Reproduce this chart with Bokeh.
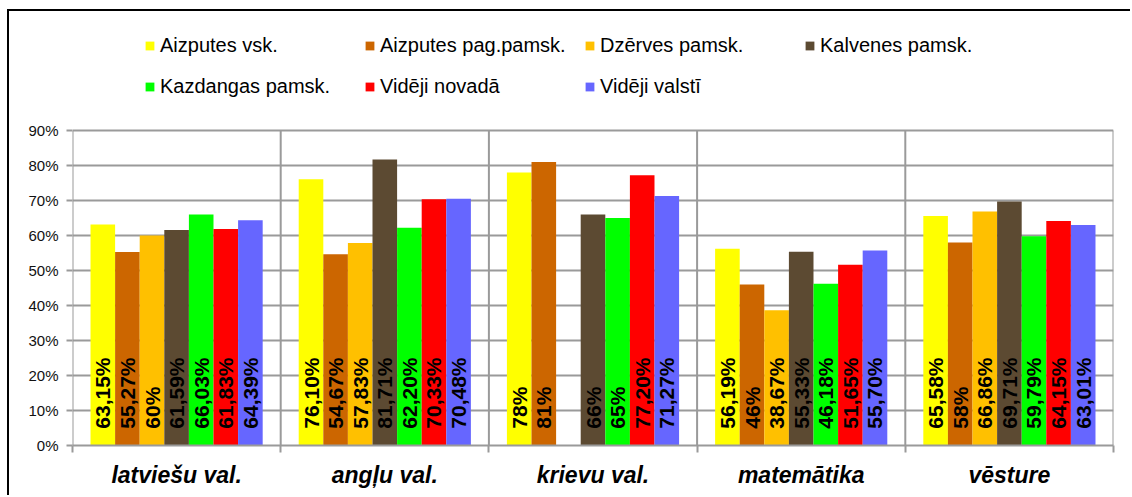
import math
from bokeh.plotting import figure
from bokeh.models import (ColumnDataSource, FixedTicker, Legend, LegendItem,
                          NumeralTickFormatter, Range1d)
from bokeh.transform import dodge
from bokeh.core.properties import value
from bokeh.embed import file_html
from bokeh.resources import INLINE

categories = ["latviešu val.", "angļu val.", "krievu val.", "matemātika", "vēsture"]
series = ["Aizputes vsk.", "Aizputes pag.pamsk.", "Dzērves pamsk.", "Kalvenes pamsk.",
          "Kazdangas pamsk.", "Vidēji novadā", "Vidēji valstī"]
colors = ["#FFFF00", "#CC6600", "#FFC000", "#5C4A32", "#00FF00", "#FF0000", "#6666FF"]

aizputes_vsk = [0.6315, 0.7610, 0.78, 0.5619, 0.6558]
aizputes_pag = [0.5527, 0.5467, 0.81, 0.46, 0.58]
dzerves = [0.60, 0.5783, float("nan"), 0.3867, 0.6686]
kalvenes = [0.6159, 0.8171, 0.66, 0.5533, 0.6971]
kazdangas = [0.6603, 0.6220, 0.65, 0.4618, 0.5979]
videji_novada = [0.6183, 0.7033, 0.7720, 0.5165, 0.6415]
videji_valsti = [0.6439, 0.7048, 0.7127, 0.5570, 0.6301]
all_values = [aizputes_vsk, aizputes_pag, dzerves, kalvenes, kazdangas, videji_novada, videji_valsti]

y_ticks = [0.0, 0.1, 0.2, 0.3, 0.4, 0.5, 0.6, 0.7, 0.8, 0.9]
y_max = 0.9

FONT = "Liberation Sans"


def fmt(v):
    if v != v:
        return ""
    s = f"{v * 100:.2f}".replace(".", ",")
    if s.endswith(",00"):
        s = s[:-3]
    return s + "%"


n_cat = len(categories)
centers = [i + 0.5 for i in range(n_cat)]
bounds = [float(i) for i in range(n_cat + 1)]

# frame extends above the value area to host the legend (value area: 0..0.9)
p = figure(width=1123, height=486, output_backend="svg", toolbar_location=None,
           x_range=Range1d(0, n_cat), y_range=Range1d(0, 1.24),
           min_border_left=63, min_border_right=19, min_border_top=0, min_border_bottom=52)
p.styles = {"margin-left": "7px", "margin-top": "9px",
            "border-top": "2px solid #000", "border-left": "2px solid #000"}
p.background_fill_color = "white"
p.border_fill_color = "white"
p.outline_line_color = None

grid_color = "#9a9a9a"
p.xaxis.ticker = FixedTicker(ticks=centers, minor_ticks=bounds)
p.xaxis.major_label_overrides = {c: name for c, name in zip(centers, categories)}
p.xaxis.major_tick_out = 0
p.xaxis.major_tick_in = 0
p.xaxis.minor_tick_out = 7
p.xaxis.minor_tick_in = 0
p.xaxis.minor_tick_line_color = grid_color
p.xaxis.minor_tick_line_width = 2
p.xaxis.axis_line_color = grid_color
p.xaxis.axis_line_width = 2
p.xaxis.major_label_text_font = FONT
p.xaxis.major_label_text_font_size = "23px"
p.xaxis.major_label_text_font_style = "bold italic"
p.xaxis.major_label_text_color = "#000000"
p.xaxis.major_label_standoff = 9

p.yaxis.ticker = FixedTicker(ticks=y_ticks)
p.yaxis.formatter = NumeralTickFormatter(format="0%")
p.yaxis.major_tick_out = 6
p.yaxis.major_tick_in = 0
p.yaxis.minor_tick_out = 0
p.yaxis.minor_tick_in = 0
p.yaxis.major_tick_line_color = grid_color
p.yaxis.major_tick_line_width = 2
p.yaxis.axis_line_color = None
p.yaxis.major_label_text_font = FONT
p.yaxis.major_label_text_font_size = "15px"
p.yaxis.major_label_text_color = "#111111"
p.yaxis.major_label_standoff = 8

p.xgrid.grid_line_color = None
p.ygrid.grid_line_color = grid_color
p.ygrid.grid_line_width = 2

# category separators (vertical grid lines limited to the value area)
p.segment(x0=bounds, y0=[0.0] * len(bounds), x1=bounds, y1=[y_max] * len(bounds),
          line_color=grid_color, line_width=2)

group = 0.827
bw = group / len(series)
items = []
for j, (name, col, vals) in enumerate(zip(series, colors, all_values)):
    off = (j - (len(series) - 1) / 2) * bw
    src = ColumnDataSource(dict(
        x=centers,
        top=vals,
        lab=[fmt(v) for v in vals],
        ly=[0.048] * n_cat,
    ))
    r = p.vbar(x=dodge("x", off, range=p.x_range), top="top", width=bw, source=src,
               fill_color=col, line_color=None)
    p.text(x=dodge("x", off, range=p.x_range), y="ly", text="lab", source=src,
           angle=math.pi / 2, text_align="left", text_baseline="middle",
           text_font=value(FONT), text_font_size="21px", text_font_style="bold",
           text_color="#000000")
    items.append(LegendItem(label=name, renderers=[r]))

legend = Legend(items=items, location=(72, 347), ncols=4, orientation="horizontal",
                padding=0, margin=0, spacing=18, label_standoff=5,
                glyph_width=11, glyph_height=11, label_width=186, label_height=23,
                label_text_font=FONT, label_text_font_size="20px",
                label_text_color="#000000",
                border_line_color=None, background_fill_alpha=0)
p.add_layout(legend)

open("out.html", "w").write(file_html(p, INLINE))
